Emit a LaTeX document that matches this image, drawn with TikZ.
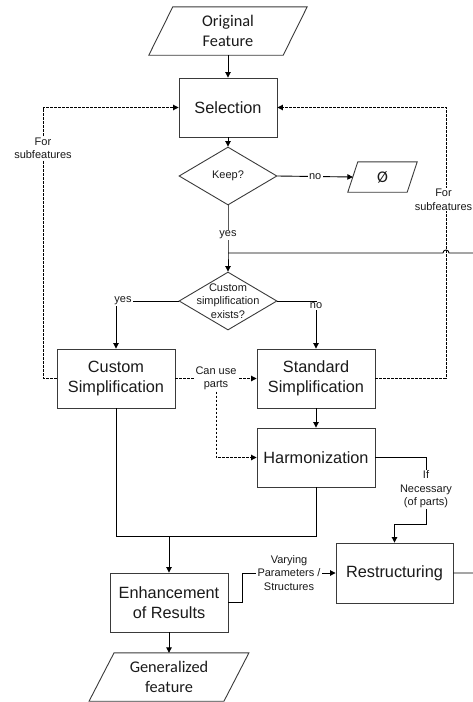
\documentclass[tikz,border=0pt]{standalone}
\usepackage{fontspec}
\setmainfont{Liberation Sans}
\newfontfamily\calib{Carlito}
\usetikzlibrary{shapes.geometric,arrows.meta,calc}
\definecolor{boxline}{HTML}{3A3A3A}
\definecolor{txt}{HTML}{1A1A1A}
\tikzset{
  box/.style={draw=boxline, line width=0.9pt, fill=white, text=txt, align=center,
    font=\fontsize{16.3}{20}\selectfont, inner sep=0pt},
  dia/.style={draw=boxline, line width=0.9pt, diamond, inner sep=0pt},
  lbl/.style={fill=white, text=txt, align=center, font=\fontsize{11}{13.5}\selectfont, inner xsep=1.5pt, inner ysep=1pt},
  io/.style={text=txt, align=center, font=\calib\fontsize{16.3}{20}\selectfont, inner sep=0pt},
  conn/.style={line width=0.9pt, draw=black},
  arr/.style={conn, -{Triangle[length=5.5pt,width=5.5pt]}},
  dsh/.style={dash pattern=on 2.6pt off 1.4pt},
}
\begin{document}
\begin{tikzpicture}[x=1pt,y=-1pt]
\useasboundingbox (0,0) rectangle (473,702);
\clip (0,0) rectangle (473,702);
% io nodes (parallelograms drawn around)
\node[io, minimum width=134pt, minimum height=48pt] (orig) at (228,31) {Original\\Feature};
\node[io, minimum width=59pt, minimum height=30pt] (empty) at (382.5,177) {Ø};
\node[io, minimum width=134.5pt, minimum height=48pt] (gen) at (169,677) {Generalized\\feature};
\foreach \n/\o in {orig/12, empty/5, gen/12.5}{
  \draw[draw=boxline, line width=0.9pt]
    ([xshift=-\o pt]\n.south west) -- ([xshift=-\o pt]\n.south east)
    -- ([xshift=\o pt]\n.north east) -- ([xshift=\o pt]\n.north west) -- cycle;
}
% process boxes
\node[box, minimum width=98pt, minimum height=59pt] (sel) at (228,107.5) {Selection};
\node[dia, minimum width=98pt, minimum height=58pt] (keep) at (228,176) {};
\node[lbl, fill=none] at (keep) {Keep?};
\node[dia, minimum width=98pt, minimum height=58pt] (cdia) at (228,301) {};
\node[lbl, fill=none] at (cdia) {Custom\\simplification\\exists?};
\node[box, minimum width=118pt, minimum height=59pt] (custom) at (116,378.5) {Custom\\Simplification};
\node[box, minimum width=118pt, minimum height=59pt] (std) at (316,378.5) {Standard\\Simplification};
\node[box, minimum width=118pt, minimum height=59pt] (harm) at (316,457.5) {Harmonization};
\node[box, minimum width=118pt, minimum height=59pt] (enh) at (169,602.5) {Enhancement\\of Results};
\node[box, minimum width=117pt, minimum height=60pt] (restr) at (394.5,573) {Restructuring};
% helper coordinates
\coordinate (join) at (228,253);
\coordinate (lx) at (43,0);
\coordinate (rx) at (446,0);
\coordinate (edge) at (480,0);
\coordinate (nec) at (426,524);
\coordinate (merge) at (169,536);
% connectors
\draw[arr] (orig.south) -- (sel.north);
\draw[arr] (sel.south) -- (keep.north);
\draw[arr] (keep.east) -- node[lbl] {no} (empty.west);
\draw[arr] (keep.south) -- node[lbl, pos=0.62] {yes} (join) -- (cdia.north);
\draw[arr] (cdia.west) -| node[lbl, pos=0.5, xshift=7pt] {yes} (custom.north);
\draw[arr] (cdia.east) -| node[lbl, pos=0.5, yshift=-5pt] {no} (std.north);
\draw[arr, dsh] (custom.west) -| node[lbl, pos=0.925] {For\\subfeatures} (lx |- sel.west) -- (sel.west);
\draw[arr, dsh] (std.east) -| node[lbl, pos=0.83, xshift=-2.5pt] {For\\subfeatures} (rx |- sel.east) -- (sel.east);
\draw[arr, dsh] (custom.east) -- node[lbl] (canuse) {Can use\\parts} (std.west);
\draw[arr, dsh] (canuse.south) |- (harm.west);
\draw[arr] (std.south) -- (harm.north);
\draw[arr] (harm.east) -| node[lbl, pos=0.74] {If\\Necessary\\(of parts)} (nec) -| (restr.north);
\draw[conn] (custom.south) |- (harm.south |- merge) -- (harm.south);
\draw[arr] (merge) -- (enh.north);
\draw[arr] (enh.south) -- (gen.north);
\draw[arr] (enh.east) -- ++(14,0) |- node[lbl, pos=0.75] {Varying\\Parameters /\\Structures} (restr.west);
\draw[conn] (restr.east) -- (edge |- restr.east) -- (edge |- join) -- (449,253)
  .. controls (449,249) and (443,249) .. (443,253) -- (join);
\end{tikzpicture}
\end{document}
